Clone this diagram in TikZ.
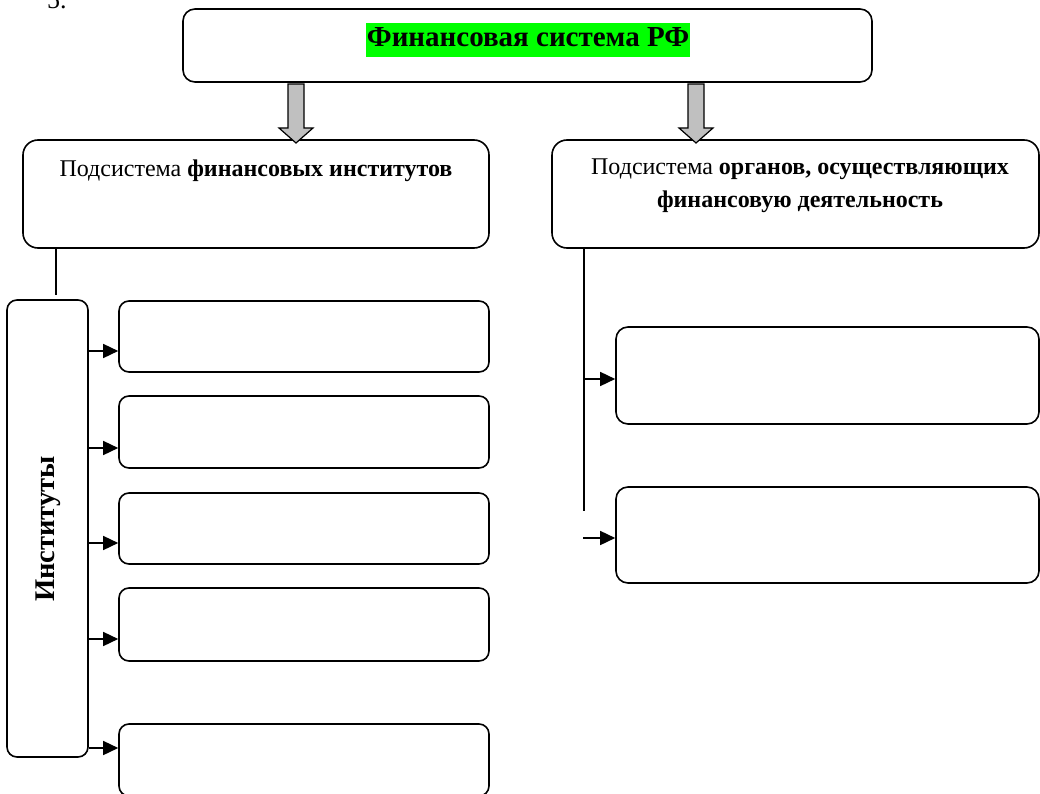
\documentclass[tikz,border=0pt]{standalone}
\usepackage{fontspec}
\setmainfont{Liberation Serif}
\usetikzlibrary{arrows.meta,calc}
\definecolor{titlegreen}{RGB}{0,255,0}
\definecolor{arrowgray}{RGB}{192,192,192}
\begin{document}
\begin{tikzpicture}[x=1pt,y=-1pt,
  box/.style={draw, line width=1.6pt, rounded corners=#1, inner sep=0pt},
  box/.default=10pt,
  conn/.style={line width=1.5pt},
  arr/.style={line width=1.5pt, -{Triangle[length=15pt,width=14pt]}},
  blockarrow/.style={draw=black, line width=1.2pt, fill=arrowgray, line join=miter},
  lbl/.style={inner sep=0pt, font=\fontsize{24}{24}\selectfont},
]
\useasboundingbox (0,0) rectangle (1040,794);

% stray item number
\node[inner sep=0pt, anchor=base west, font=\fontsize{26}{30}\selectfont] (num) at (47,9) {5.};

% top box
\node[box=12pt, minimum width=689pt, minimum height=73pt] (top) at (527.5,45.5) {};
\node[fill=titlegreen, inner xsep=1pt, inner ysep=3pt, text height=21pt, text depth=7pt,
      font=\bfseries\fontsize{29}{33}\selectfont] (title) at (528,40) {Финансовая система РФ};

% subsystem boxes
\node[box=15pt, minimum width=466pt, minimum height=108pt] (sub1) at (256,194) {};
\node[lbl, anchor=base] (sub1text) at (256,177) {Подсистема \textbf{финансовых институтов}};
\node[box=15pt, minimum width=487pt, minimum height=108pt] (sub2) at (795.5,194) {};
\node[lbl, anchor=base] (sub2text) at (800,175) {\begin{tabular}[t]{@{}c@{}}Подсистема \textbf{органов, осуществляющих}\\[9pt]\textbf{финансовую деятельность}\end{tabular}};

% block arrows
\coordinate (a1s) at (296,84);
\coordinate (a1e) at (296,143);
\coordinate (a2s) at (696,84);
\coordinate (a2e) at (696,143);
\foreach \s/\e in {a1s/a1e, a2s/a2e}{
  \draw[blockarrow] ($(\s)+(-8,0)$) -- ($(\s)+(8,0)$) -- ($(\e)+(8,-15)$) -- ($(\e)+(17,-15)$)
    -- (\e) -- ($(\e)+(-17,-15)$) -- ($(\e)+(-8,-15)$) -- cycle;
}

% institutes
\node[box=10pt, minimum width=81pt, minimum height=457pt] (inst) at (47.5,528.5) {};
\node[rotate=90, inner sep=0pt, font=\bfseries\fontsize{28.5}{32}\selectfont] (insttext) at (48.5,529) {Институты};

% left boxes
\node[box, minimum width=370pt, minimum height=71pt] (L1) at (304,336.5) {};
\node[box, minimum width=370pt, minimum height=72pt] (L2) at (304,432) {};
\node[box, minimum width=370pt, minimum height=71pt] (L3) at (304,528.5) {};
\node[box, minimum width=370pt, minimum height=73pt] (L4) at (304,624.5) {};
\node[box, minimum width=370pt, minimum height=72pt] (L5) at (304,760) {};

% right boxes
\node[box=12pt, minimum width=423pt, minimum height=97pt] (R1) at (827.5,375.5) {};
\node[box=12pt, minimum width=423pt, minimum height=96pt] (R2) at (827.5,535) {};

% left connectors
\coordinate (c1) at (56,295);
\draw[conn] (sub1.south -| c1) -- (c1);
\coordinate (y1) at (0,351);
\coordinate (y2) at (0,448);
\coordinate (y3) at (0,543);
\coordinate (y4) at (0,639);
\coordinate (y5) at (0,748);
\draw[arr] (inst.east |- y1) -- (L1.west |- y1);
\draw[arr] (inst.east |- y2) -- (L2.west |- y2);
\draw[arr] (inst.east |- y3) -- (L3.west |- y3);
\draw[arr] (inst.east |- y4) -- (L4.west |- y4);
\draw[arr] (inst.east |- y5) -- (L5.west |- y5);

% right connectors
\coordinate (c2) at (584,511);
\draw[conn] (sub2.south -| c2) -- (c2);
\coordinate (r1) at (584,379);
\coordinate (r2) at (583,538);
\draw[arr] (r1) -- (R1.west |- r1);
\draw[arr] (r2) -- (R2.west |- r2);
\end{tikzpicture}
\end{document}
